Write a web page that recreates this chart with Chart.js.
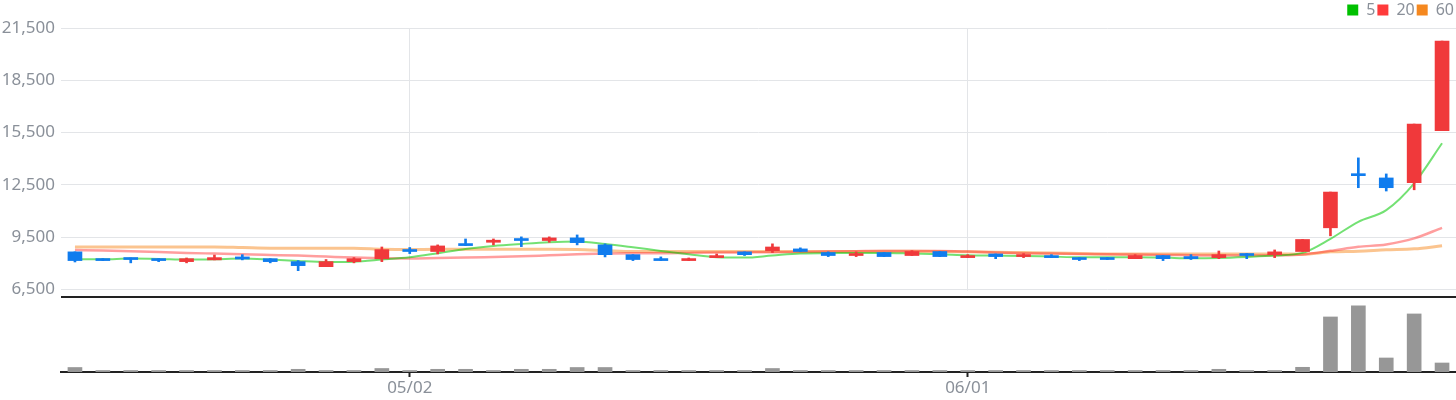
<!DOCTYPE html>
<html>
<head>
<meta charset="utf-8">
<script src="https://cdn.jsdelivr.net/npm/chart.js@4.4.1/dist/chart.umd.min.js"></script>
<style>
html,body{margin:0;padding:0;background:#fff;}
canvas{display:block;}
</style>
</head>
<body>
<canvas id="c" width="1456" height="400"></canvas>
<script>
const dates = ['04/13','04/14','04/17','04/18','04/19','04/20','04/21','04/24','04/25','04/26','04/27','04/28',
  '05/02','05/03','05/04','05/08','05/09','05/10','05/11','05/12','05/15','05/16','05/17','05/18','05/19',
  '05/22','05/23','05/24','05/25','05/26','05/30','05/31',
  '06/01','06/02','06/05','06/07','06/08','06/09','06/12','06/13','06/14','06/15','06/16','06/19','06/20',
  '06/21','06/22','06/23','06/26','06/27'];
const opens  = [8660,8270,8310,8270,8100,8200,8370,8270,8100,7810,8100,8270,8790,8680,9120,9210,9400,9310,9460,9060,
  8500,8240,8160,8330,8660,8730,8830,8620,8450,8620,8450,8680,8330,8540,8390,8430,8330,8330,8270,8450,
  8390,8330,8560,8500,8680,10040,13120,12900,12630,15610];
const highs  = [8660,8270,8310,8270,8310,8480,8500,8270,8160,8220,8330,8940,8910,9060,9400,9400,9520,9520,9630,9120,
  8500,8370,8310,8540,8660,9120,8890,8660,8660,8620,8730,8680,8500,8540,8560,8500,8330,8330,8500,8450,
  8500,8710,8560,8770,9370,12090,14050,13130,15990,20750];
const lows   = [8080,8160,8030,8100,8030,8200,8200,8030,7580,7810,8030,8100,8560,8540,9020,9060,8960,9210,9060,8370,
  8160,8160,8160,8330,8450,8620,8680,8390,8390,8390,8450,8390,8330,8270,8330,8330,8160,8220,8270,8160,
  8220,8270,8270,8330,8680,9580,12340,12150,12220,15610];
const closes = [8160,8160,8220,8160,8270,8330,8250,8100,7870,8100,8270,8790,8680,9000,9020,9330,9310,9460,9190,8500,
  8220,8160,8250,8430,8500,8940,8680,8450,8560,8390,8680,8390,8430,8390,8480,8330,8220,8220,8450,8270,
  8270,8500,8450,8660,9370,12090,13030,12340,15990,20750];
const volumes = [450,150,150,150,150,150,150,150,270,150,150,350,150,270,270,150,270,270,450,450,
  150,150,150,150,150,350,150,150,150,150,150,150,150,150,150,150,150,150,150,150,
  150,270,150,150,470,5500,6600,1400,5800,900];
const ma5  = [8235,8235,8273,8254,8216,8235,8273,8216,8139,8082,8100,8216,8350,8580,8829,9002,9117,9212,9251,9117,
  8925,8714,8522,8350,8330,8450,8561,8580,8600,8600,8561,8522,8465,8446,8427,8388,8350,8350,8350,8331,
  8292,8311,8369,8446,8600,9408,10385,11057,12592,14890];
const ma20 = [8772,8733,8695,8657,8600,8561,8522,8484,8446,8388,8331,8292,8282,8311,8331,8369,8407,8465,8522,8561,
  8580,8580,8600,8618,8630,8640,8657,8676,8695,8714,8714,8714,8676,8618,8580,8561,8542,8522,8503,8484,
  8465,8446,8446,8465,8515,8718,8948,9086,9431,10040];
const ma60 = [8944,8944,8944,8944,8944,8944,8906,8868,8868,8868,8868,8810,8791,8810,8810,8810,8810,8810,8791,8733,
  8676,8676,8676,8676,8676,8676,8676,8676,8680,8690,8690,8680,8660,8640,8620,8600,8570,8542,8542,8540,
  8540,8540,8540,8540,8530,8660,8700,8776,8833,9006];
const priceTicks = [6500, 9500, 12500, 15500, 18500, 21500];
const xTickLabels = ['05/02', '06/01'];
const maLabels = ['5', '20', '60'];

const UP = '#f0393b', DOWN = '#107cee';
const GRID = '#e3e5e8', TEXT = '#8a9099', DARK = '#222222';
const legendColors = ['#00c000', '#ff3b3b', '#f5881f'];
const lineColors = ['rgba(0,200,0,0.55)', 'rgba(255,40,40,0.45)', 'rgba(247,137,31,0.5)'];
const PRICE_MIN = 6075, PRICE_MAX = 21500, VOL_MAX = 7500;

Chart.defaults.font.family = "'Noto Sans', sans-serif";

const candleColors = closes.map((c, i) => c >= opens[i] ? UP : DOWN);
const isLabeled = i => xTickLabels.includes(dates[i]);

const panelPlugin = {
  id: 'panels',
  beforeDatasetsDraw(chart) {
    const {ctx, chartArea} = chart;
    const y = chart.scales.y;
    const top = y.getPixelForValue(priceTicks[0]) + 1;
    ctx.save();
    ctx.fillStyle = '#ffffff';
    ctx.fillRect(chartArea.left, top, chartArea.right - chartArea.left, chartArea.bottom - 1.5 - top);
    ctx.strokeStyle = DARK;
    ctx.lineWidth = 2;
    ctx.beginPath();
    ctx.moveTo(chartArea.left, y.bottom);
    ctx.lineTo(chartArea.right, y.bottom);
    ctx.stroke();
    ctx.restore();
  }
};

const maData = [ma5, ma20, ma60];
const maWidths = [2, 2.5, 3];
const lineSets = maData.map((d, i) => ({
  type: 'line', label: maLabels[i], data: d, yAxisID: 'y',
  borderColor: lineColors[i], backgroundColor: legendColors[i], borderWidth: maWidths[i],
  pointRadius: 0, cubicInterpolationMode: 'monotone', order: 2 + i
}));

new Chart(document.getElementById('c'), {
  type: 'bar',
  data: {
    labels: dates,
    datasets: [
      { label: 'body', data: opens.map((o, i) => [o, closes[i]]), backgroundColor: candleColors,
        yAxisID: 'y', barThickness: 14, grouped: false, minBarLength: 2, order: 0 },
      { label: 'wick', data: lows.map((l, i) => [l, highs[i]]), backgroundColor: candleColors,
        yAxisID: 'y', barThickness: 2, grouped: false, order: 1 },
      ...lineSets,
      { label: 'vol', data: volumes, backgroundColor: '#979797', yAxisID: 'yv',
        barThickness: 14, grouped: false, order: 6 }
    ]
  },
  options: {
    responsive: false,
    animation: false,
    layout: { padding: { top: 0, right: 0, left: 0, bottom: 0 } },
    plugins: {
      tooltip: { enabled: false },
      legend: {
        position: 'top', align: 'end',
        labels: {
          boxWidth: 11, boxHeight: 11, padding: 2, color: TEXT,
          font: { size: 16 },
          generateLabels: () => maLabels.map((t, i) => ({
            text: t, fillStyle: legendColors[i], strokeStyle: legendColors[i], lineWidth: 0,
            hidden: false, datasetIndex: i + 2, fontColor: TEXT
          }))
        }
      }
    },
    scales: {
      x: {
        offset: true,
        grid: {
          offset: false, lineWidth: 1, tickLength: 5, tickWidth: 2,
          color: c => isLabeled(c.index) ? GRID : 'rgba(0,0,0,0)',
          tickColor: c => isLabeled(c.index) ? DARK : 'rgba(0,0,0,0)'
        },
        border: { display: true, color: DARK, width: 2 },
        ticks: {
          autoSkip: false, maxRotation: 0, padding: 3, color: TEXT, font: { size: 17, lineHeight: 1.0 },
          callback: (v, i) => isLabeled(i) ? dates[i] : ''
        }
      },
      yv: {
        type: 'linear', position: 'left', stack: 'main', stackWeight: 75,
        min: 0, max: VOL_MAX,
        grid: { display: false }, border: { display: false }, ticks: { display: false },
        afterFit: s => { s.width = 61; }
      },
      y: {
        type: 'linear', position: 'left', stack: 'main', stackWeight: 268.7,
        min: PRICE_MIN, max: PRICE_MAX,
        afterBuildTicks: s => { s.ticks = [PRICE_MIN, ...priceTicks].map(v => ({ value: v })); },
        grid: { color: c => c.index === 0 ? 'rgba(0,0,0,0)' : GRID, drawTicks: false, lineWidth: 1 },
        border: { display: false },
        ticks: {
          padding: 6, color: TEXT, font: { size: 17 },
          callback: v => v === PRICE_MIN ? '' : v.toLocaleString('en-US')
        },
        afterFit: s => { s.width = 61; }
      }
    }
  },
  plugins: [panelPlugin]
});
</script>
</body>
</html>
